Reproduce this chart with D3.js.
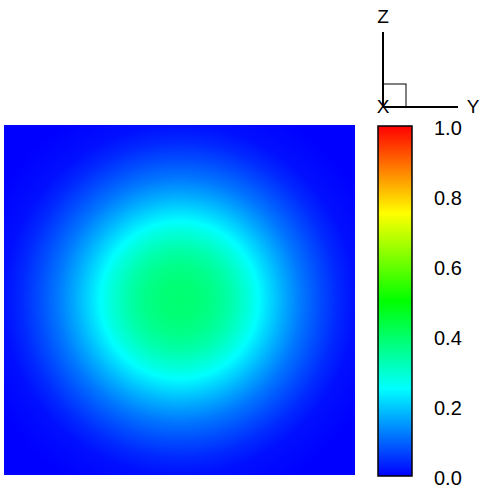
<!DOCTYPE html>
<html>
<head>
<meta charset="utf-8">
<script src="https://cdn.jsdelivr.net/npm/d3@7"></script>
<style>
  body { margin: 0; background: #fff; }
  svg { display: block; font-family: "Liberation Sans", Arial, sans-serif; }
</style>
</head>
<body>
<svg id="chart" width="481" height="491"></svg>
<script>
// radial profile of the field (r in half-widths)
const radii = [0, 0.1, 0.2, 0.3, 0.4, 0.45, 0.5, 0.6, 0.7, 0.8, 0.9, 1.0, 1.2, 1.42]
const levels = [0.39, 0.385, 0.365, 0.33, 0.28, 0.25, 0.22, 0.165, 0.115, 0.075, 0.04, 0.015, 0, 0]

// colour map stops
const colorStops = [0, 0.25, 0.5, 0.75, 1]
const colorValues = ['#0000ff', '#00ffff', '#00ff00', '#ffff00', '#ff0000']

const ticks = [0, 0.2, 0.4, 0.6, 0.8, 1.0]
const axisNames = ['X', 'Y', 'Z']

const svg = d3.select('#chart')

const plot = { left: 4, top: 125, width: 351, height: 350 }

const x = d3.scaleLinear().domain([-1, 1]).range([0, plot.width])
const y = d3.scaleLinear().domain([-1, 1]).range([plot.height, 0])
const profile = d3.scaleLinear().domain(radii).range(levels).clamp(true)
const color = d3.scaleLinear().domain(colorStops).range(colorValues).clamp(true)

// paint the field into a canvas, then hand it to the svg as an image
const canvas = document.createElement('canvas')
canvas.width = plot.width
canvas.height = plot.height
const ctx = canvas.getContext('2d')
const img = ctx.createImageData(plot.width, plot.height)
for (let j = 0; j < plot.height; j++) {
  const yv = y.invert(j + 0.5)
  for (let i = 0; i < plot.width; i++) {
    const xv = x.invert(i + 0.5)
    const c = d3.rgb(color(profile(Math.sqrt(xv * xv + yv * yv))))
    const k = (j * plot.width + i) * 4
    img.data[k] = c.r
    img.data[k + 1] = c.g
    img.data[k + 2] = c.b
    img.data[k + 3] = 255
  }
}
ctx.putImageData(img, 0, 0)

svg.append('image')
  .attr('x', plot.left)
  .attr('y', plot.top)
  .attr('width', plot.width)
  .attr('height', plot.height)
  .attr('preserveAspectRatio', 'none')
  .attr('href', canvas.toDataURL())

// colour bar
const bar = { left: 378, top: 126, width: 34, height: 350 }
const barY = d3.scaleLinear().domain([0, 1]).range([bar.top + bar.height, bar.top])

const grad = svg.append('defs').append('linearGradient')
  .attr('id', 'jet')
  .attr('x1', 0).attr('y1', 1).attr('x2', 0).attr('y2', 0)
grad.selectAll('stop')
  .data(colorStops)
  .enter()
  .append('stop')
  .attr('offset', d => d)
  .attr('stop-color', d => color(d))

svg.append('rect')
  .attr('x', bar.left)
  .attr('y', bar.top)
  .attr('width', bar.width)
  .attr('height', bar.height)
  .attr('fill', 'url(#jet)')
  .attr('stroke', '#000')
  .attr('stroke-width', 1.5)

svg.selectAll('.tick-label')
  .data(ticks)
  .enter()
  .append('text')
  .attr('class', 'tick-label')
  .attr('x', 434)
  .attr('y', d => barY(d) + 9)
  .attr('font-size', 20)
  .text(d => d3.format('.1f')(d))

// axis triad
const triad = { x: 383, y: 107, len: 75, box: 23 }
const g = svg.append('g').attr('stroke', '#000').attr('fill', 'none')
g.append('line')
  .attr('x1', triad.x).attr('y1', triad.y)
  .attr('x2', triad.x).attr('y2', triad.y - triad.len)
  .attr('stroke-width', 2)
g.append('line')
  .attr('x1', triad.x).attr('y1', triad.y)
  .attr('x2', triad.x + triad.len).attr('y2', triad.y)
  .attr('stroke-width', 2)
g.append('rect')
  .attr('x', triad.x).attr('y', triad.y - triad.box)
  .attr('width', triad.box).attr('height', triad.box)
  .attr('stroke-width', 1)

const labelPos = {
  X: [triad.x, triad.y + 6],
  Y: [triad.x + triad.len + 15, triad.y + 6],
  Z: [triad.x, triad.y - triad.len - 9]
}
svg.selectAll('.axis-name')
  .data(axisNames)
  .enter()
  .append('text')
  .attr('class', 'axis-name')
  .attr('x', d => labelPos[d][0])
  .attr('y', d => labelPos[d][1])
  .attr('text-anchor', 'middle')
  .attr('font-size', 19)
  .text(d => d)
</script>
</body>
</html>
